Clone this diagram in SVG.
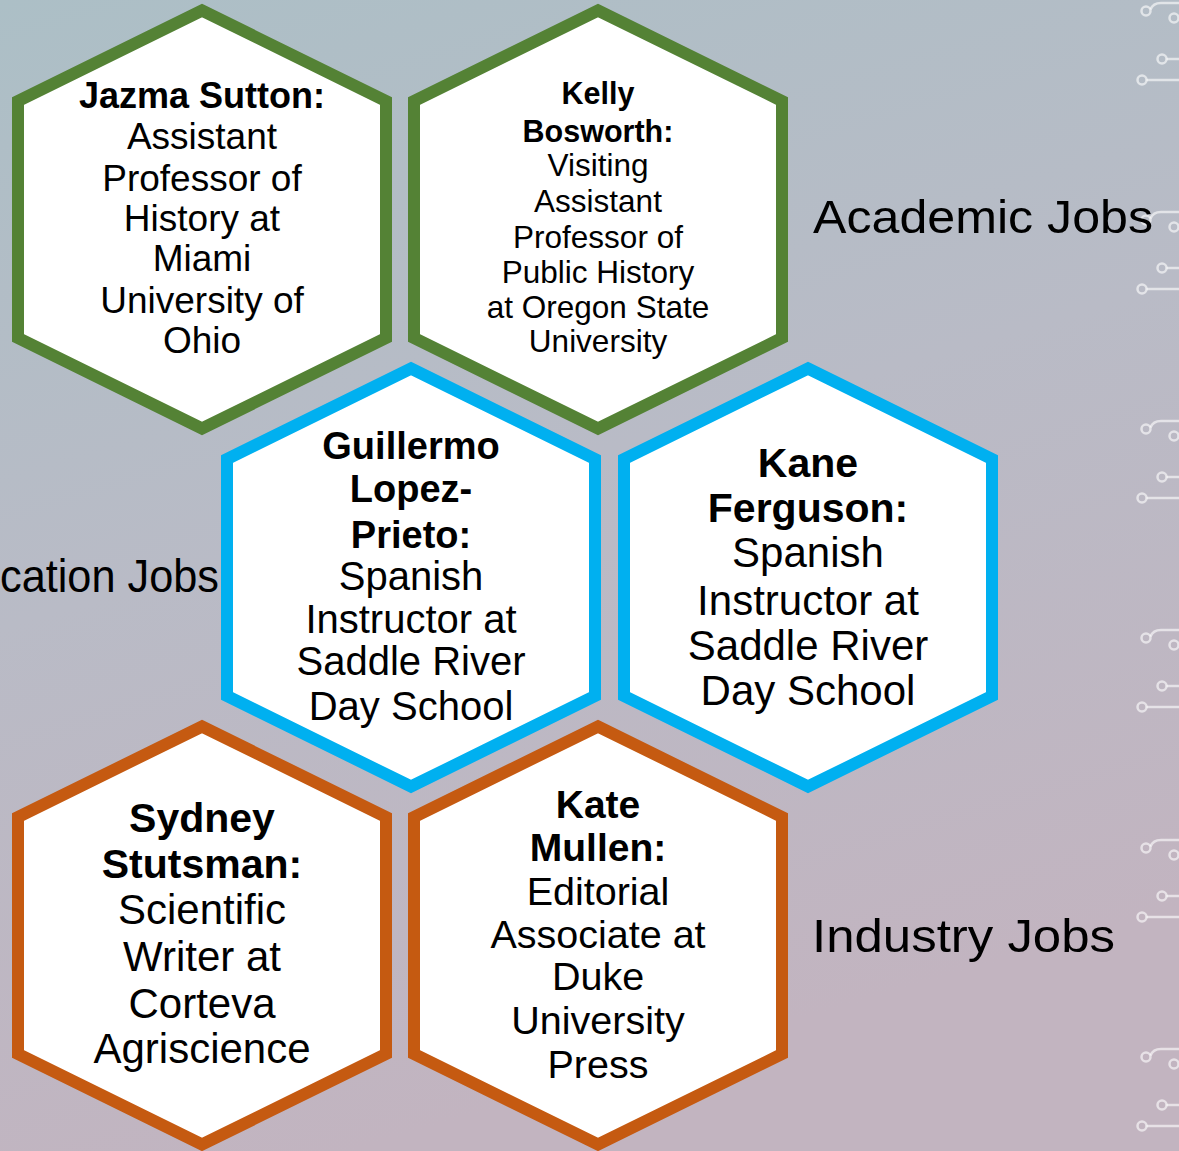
<svg xmlns="http://www.w3.org/2000/svg" xmlns:xlink="http://www.w3.org/1999/xlink" width="1179" height="1151" viewBox="0 0 1179 1151">
<style>
.hex{fill:#fff;stroke-width:12;stroke-linejoin:miter}
.g{stroke:#548235}.b{stroke:#00b0f0}.o{stroke:#c55a11}
text{font-family:"Liberation Sans",Arial,sans-serif;fill:#000;text-anchor:middle}
.bd{font-weight:bold}
.lbl{text-anchor:start;font-size:46px}
.circ{fill:none;stroke:#fff;stroke-opacity:0.6;stroke-width:2.5}
.s37{font-size:37px}.s36{font-size:36px}
.s31{font-size:31.5px}.s30{font-size:30.5px}
.s40{font-size:40px}.s38{font-size:38px}
.s42{font-size:42px}.s41{font-size:41px}
.s395{font-size:39.5px}.s39{font-size:39px}
</style>
<defs>
<linearGradient id="bg" x1="0" y1="0" x2="0.3" y2="1">
<stop offset="0" stop-color="#acbfc6"/>
<stop offset="0.5" stop-color="#b9bbc6"/>
<stop offset="1" stop-color="#c2b4c0"/>
</linearGradient>
<g id="circ" class="circ">
<circle cx="1146" cy="0" r="4.5"/>
<path d="M1150.5,-1.5 Q1153,-8 1161,-8 H1182"/>
<circle cx="1174" cy="7" r="4.5"/>
<circle cx="1162" cy="48" r="4.5"/>
<path d="M1166.5,48 H1182"/>
<circle cx="1142" cy="69" r="4.5"/>
<path d="M1146.5,69 H1182"/>
</g>
</defs>
<rect width="1179" height="1151" fill="url(#bg)"/>
<g id="decor">
<use xlink:href="#circ" transform="translate(0,11)"/>
<use xlink:href="#circ" transform="translate(0,220)"/>
<use xlink:href="#circ" transform="translate(0,429)"/>
<use xlink:href="#circ" transform="translate(0,638)"/>
<use xlink:href="#circ" transform="translate(0,848)"/>
<use xlink:href="#circ" transform="translate(0,1057)"/>
</g>
<g id="labels">
<text class="lbl" x="813" y="233" textLength="340" lengthAdjust="spacingAndGlyphs">Academic Jobs</text>
<text class="lbl" x="0" y="592" textLength="219" lengthAdjust="spacingAndGlyphs">cation Jobs</text>
<text class="lbl" x="812" y="952" textLength="303" lengthAdjust="spacingAndGlyphs">Industry Jobs</text>
</g>
<g id="connectors"></g>
<g id="jazma">
<polygon class="hex g" points="202,10.5 386,101 386,338 202,428.5 18,338 18,101"/>
<text class="bd s36" x="202" y="108">Jazma Sutton:</text>
<text class="s37" x="202" y="149">Assistant</text>
<text class="s37" x="202" y="191">Professor of</text>
<text class="s37" x="202" y="231">History at</text>
<text class="s37" x="202" y="271">Miami</text>
<text class="s37" x="202" y="313">University of</text>
<text class="s37" x="202" y="353">Ohio</text>
</g>
<g id="kelly">
<polygon class="hex g" points="598,10.5 782,101 782,338 598,428.5 414,338 414,101"/>
<text class="bd s30" x="598" y="104">Kelly</text>
<text class="bd s30" x="598" y="142">Bosworth:</text>
<text class="s31" x="598" y="176">Visiting</text>
<text class="s31" x="598" y="212">Assistant</text>
<text class="s31" x="598" y="248">Professor of</text>
<text class="s31" x="598" y="283">Public History</text>
<text class="s31" x="598" y="318">at Oregon State</text>
<text class="s31" x="598" y="352">University</text>
</g>
<g id="guillermo">
<polygon class="hex b" points="411,368.5 595,459 595,696 411,786.5 227,696 227,459"/>
<text class="bd s38" x="411" y="459">Guillermo</text>
<text class="bd s38" x="411" y="502">Lopez-</text>
<text class="bd s38" x="411" y="548">Prieto:</text>
<text class="s40" x="411" y="590">Spanish</text>
<text class="s40" x="411" y="633">Instructor at</text>
<text class="s40" x="411" y="675">Saddle River</text>
<text class="s40" x="411" y="720">Day School</text>
</g>
<g id="kane">
<polygon class="hex b" points="808,368.5 992,459 992,696 808,786.5 624,696 624,459"/>
<text class="bd s41" x="808" y="477">Kane</text>
<text class="bd s41" x="808" y="522">Ferguson:</text>
<text class="s42" x="808" y="567">Spanish</text>
<text class="s42" x="808" y="615">Instructor at</text>
<text class="s42" x="808" y="660">Saddle River</text>
<text class="s42" x="808" y="705">Day School</text>
</g>
<g id="sydney">
<polygon class="hex o" points="202,726.5 386,817 386,1054 202,1144.5 18,1054 18,817"/>
<text class="bd s41" x="202" y="832">Sydney</text>
<text class="bd s41" x="202" y="878">Stutsman:</text>
<text class="s42" x="202" y="924">Scientific</text>
<text class="s42" x="202" y="971">Writer at</text>
<text class="s42" x="202" y="1018">Corteva</text>
<text class="s42" x="202" y="1063">Agriscience</text>
</g>
<g id="kate">
<polygon class="hex o" points="598,726.5 782,817 782,1054 598,1144.5 414,1054 414,817"/>
<text class="bd s39" x="598" y="818">Kate</text>
<text class="bd s39" x="598" y="861">Mullen:</text>
<text class="s395" x="598" y="905">Editorial</text>
<text class="s395" x="598" y="948">Associate at</text>
<text class="s395" x="598" y="990">Duke</text>
<text class="s395" x="598" y="1034">University</text>
<text class="s395" x="598" y="1078">Press</text>
</g>
</svg>
